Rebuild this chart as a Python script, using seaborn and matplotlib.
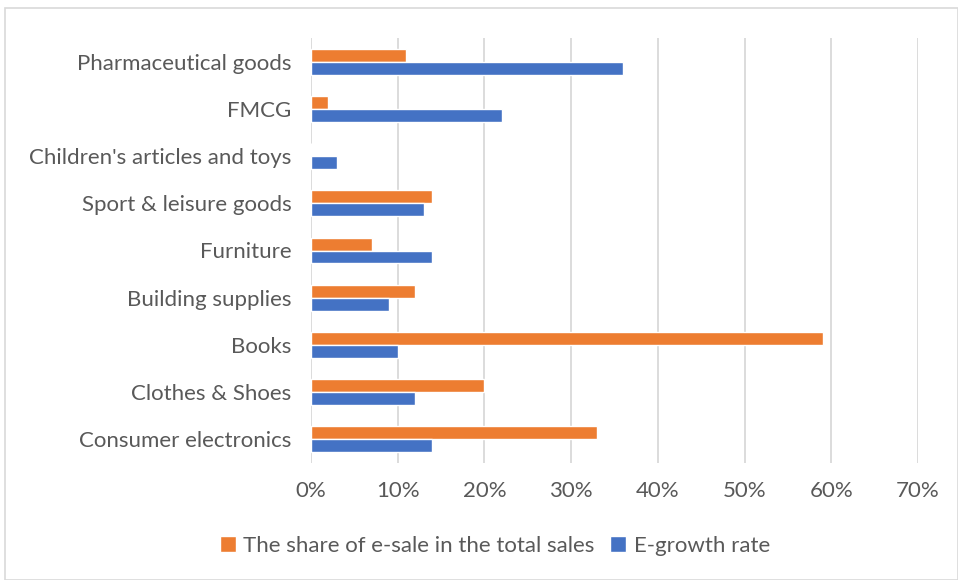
import matplotlib
matplotlib.use("Agg")
import matplotlib.pyplot as plt
import matplotlib.patches as mpatches
from matplotlib.ticker import PercentFormatter
import pandas as pd
import seaborn as sns

categories = [
    "Pharmaceutical goods",
    "FMCG",
    "Children's articles and toys",
    "Sport & leisure goods",
    "Furniture",
    "Building supplies",
    "Books",
    "Clothes & Shoes",
    "Consumer electronics",
]
share_esale = [11, 2, 0, 14, 7, 12, 59, 20, 33]
growth_rate = [36, 22, 3, 13, 14, 9, 10, 12, 14]
series_names = ["The share of e-sale in the total sales", "E-growth rate"]
series_colors = ["#ED7D31", "#4472C4"]
x_ticks = [0, 10, 20, 30, 40, 50, 60, 70]

df = pd.DataFrame({
    "category": categories * 2,
    "value": share_esale + growth_rate,
    "series": [series_names[0]] * len(categories) + [series_names[1]] * len(categories),
})

sns.set_theme(style="white")
plt.rcParams["font.family"] = ["Lato", "DejaVu Sans"]
text_color = "#595959"
fsize = 16

fig = plt.figure(figsize=(9.58, 5.8), dpi=100)
ax = fig.add_axes([311 / 958, 1 - 463 / 580, (918 - 311) / 958, (463 - 38) / 580])

sns.barplot(
    data=df, x="value", y="category", hue="series",
    order=categories, hue_order=series_names,
    palette=series_colors, width=0.55, orient="h",
    saturation=1, ax=ax, legend=True,
)

ax.set_xlim(0, 70)
ax.set_xticks(x_ticks)
ax.xaxis.set_major_formatter(PercentFormatter(decimals=0))
ax.grid(axis="x", color="#D9D9D9", linewidth=1.3)
ax.set_axisbelow(True)
for s in ax.spines.values():
    s.set_visible(False)
ax.set_xlabel("")
ax.set_ylabel("")
ax.tick_params(axis="both", length=0, colors=text_color, labelsize=fsize)
ax.tick_params(axis="x", pad=13)
ax.tick_params(axis="y", pad=14)

handles, labels = ax.get_legend_handles_labels()
ax.get_legend().remove()
fig.legend(
    handles, labels, loc="center", bbox_to_anchor=(495 / 958, 1 - 546 / 580),
    ncol=2, frameon=False, fontsize=fsize, labelcolor=text_color,
    handlelength=0.7, handleheight=0.7, handletextpad=0.35, columnspacing=0.7,
)

fig.patches.append(mpatches.Rectangle(
    (5 / 958, 0), 1 - 5 / 958, 1 - 8 / 580, transform=fig.transFigure,
    fill=False, edgecolor="#D9D9D9", linewidth=1.2,
))

fig.savefig("out.png", dpi=100, facecolor="white")
